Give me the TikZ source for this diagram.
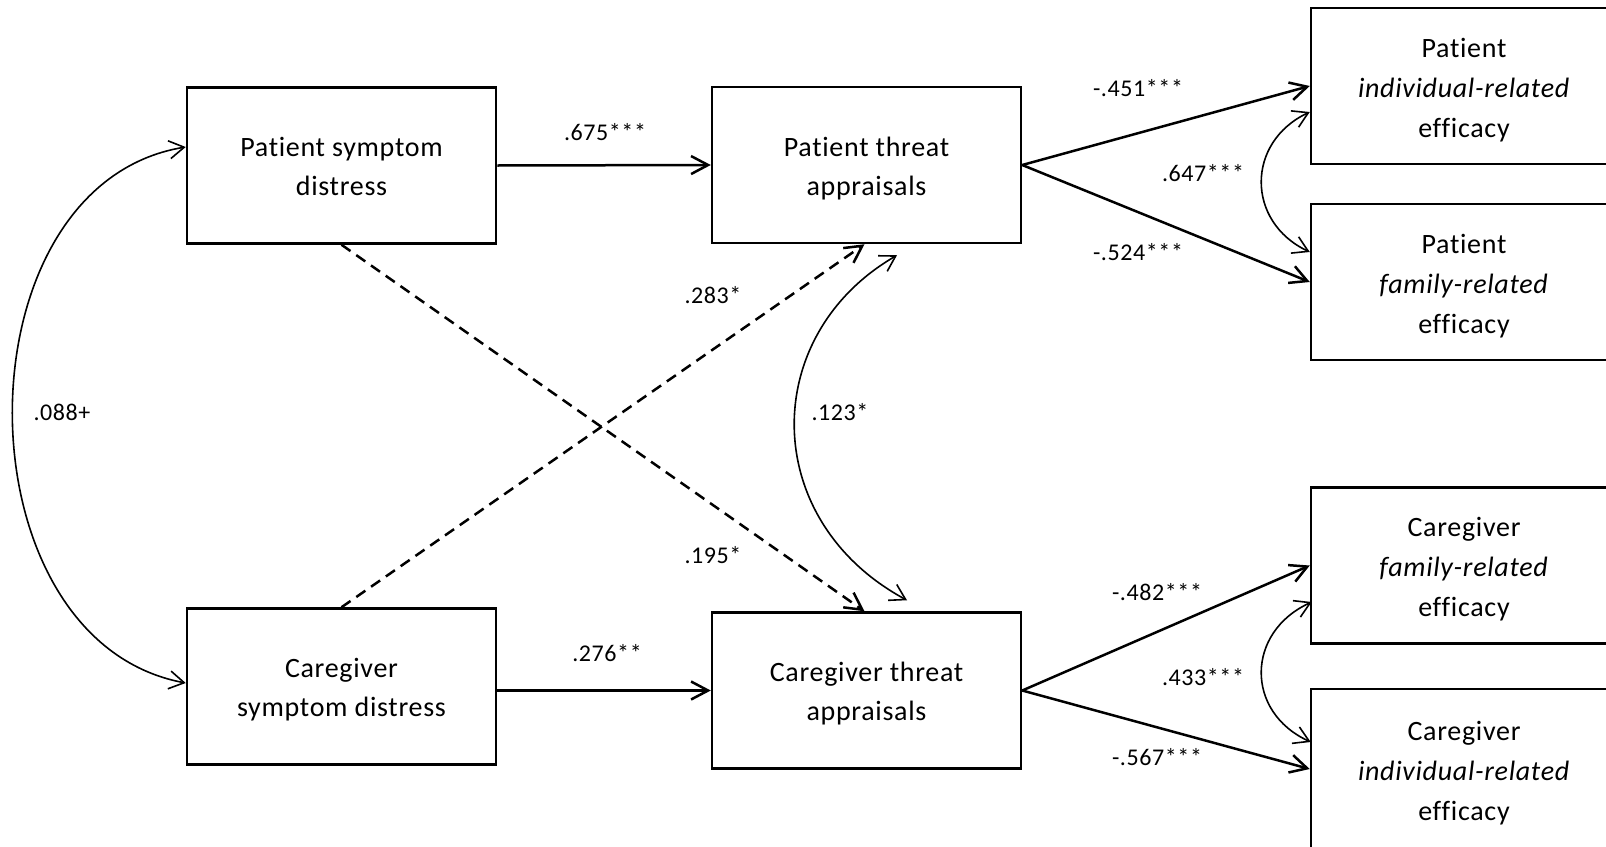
\documentclass[tikz,border=0pt]{standalone}
\usepackage{fontspec}
\setmainfont{Carlito}[Ligatures=NoCommon,LetterSpace=2.5]
\usetikzlibrary{arrows.meta}
\newcommand{\bxt}[1]{\raisebox{-3pt}[\height][\depth]{\begin{tabular}{@{}c@{}}#1\end{tabular}}}
\begin{document}
\begin{tikzpicture}[x=1pt,y=-1pt,
  box/.style={draw,line width=2.5pt,minimum width=309pt,minimum height=156pt,inner sep=0pt,font=\fontsize{28}{39}\selectfont},
  rbox/.style={draw,line width=2.5pt,minimum width=306pt,minimum height=156pt,inner sep=0pt,font=\fontsize{28}{40}\selectfont},
  lab/.style={inner sep=0pt,font=\fontsize{24}{28}\selectfont},
  path/.style={line width=2.5pt,-{Straight Barb[length=17pt,width=18pt]}},
  dpath/.style={path,dash pattern=on 11pt off 7pt},
  corr/.style={line width=1.6pt,{Straight Barb[length=15pt,width=18pt]}-{Straight Barb[length=15pt,width=18pt]}}
]
\useasboundingbox (0,0) rectangle (1606,846);
\clip (0,0) rectangle (1606,846);

\node[box] (A) at (341.5,165.5) {\bxt{Patient symptom\\distress}};
\node[box] (B) at (866.5,165) {\bxt{Patient threat\\appraisals}};
\node[box] (C) at (341.5,686.5) {\bxt{Caregiver\\symptom distress}};
\node[box] (D) at (866.5,690.5) {\bxt{Caregiver threat\\appraisals}};

\node[rbox] (R1) at (1464,86) {\bxt{Patient\\\textit{individual-related}\\efficacy}};
\node[rbox] (R2) at (1464,282) {\bxt{Patient\\\textit{family-related}\\efficacy}};
\node[rbox] (R3) at (1464,565.5) {\bxt{Caregiver\\\textit{family-related}\\efficacy}};
\node[rbox,minimum height=160pt] (R4) at (1464,769) {\bxt{Caregiver\\\textit{individual-related}\\efficacy}};

% paths
\draw[path] (A.east) -- (B.west);
\draw[path] (C.east |- D.west) -- (D.west);
\draw[dpath] (A.south) -- ([xshift=-2pt]D.north);
\draw[dpath] (C.north) -- ([xshift=-2pt]B.south);
\draw[path] (B.east) -- (R1.west);
\draw[path] (B.east) -- (R2.west);
\draw[path] (D.east) -- (R3.west);
\draw[path] (D.east) -- (R4.west);

% correlations
\draw[corr] ([yshift=18.5pt]A.west) .. controls +(-231,38) and +(-230,-43) .. ([yshift=3.5pt]C.west);
\draw[corr] ([xshift=30.5pt,yshift=-11pt]B.south) .. controls +(-138,80) and +(-148,-80) .. ([xshift=40.5pt,yshift=11pt]D.north);
\draw[corr] ([yshift=-26pt]R1.west) .. controls +(-64,30) and +(-64,-30) .. ([yshift=30pt]R2.west);
\draw[corr] ([xshift=2pt,yshift=-36.5pt]R3.west) .. controls +(-66,30) and +(-66,-30) .. ([xshift=1pt,yshift=27pt]R4.west);

% labels
\node[lab] (l1) at (605,132) {.675***};
\node[lab] (l2) at (607,653) {.276**};
\node[lab] (l3) at (713,295) {.283*};
\node[lab] (l4) at (713,555) {.195*};
\node[lab] (l5) at (840,412) {.123*};
\node[lab] (l6) at (62,412) {.088+};
\node[lab] (l7) at (1138,88) {-.451***};
\node[lab] (l8) at (1203,173) {.647***};
\node[lab] (l9) at (1138,252) {-.524***};
\node[lab] (l10) at (1157,592) {-.482***};
\node[lab] (l11) at (1203,677) {.433***};
\node[lab] (l12) at (1157,757) {-.567***};
\end{tikzpicture}
\end{document}
